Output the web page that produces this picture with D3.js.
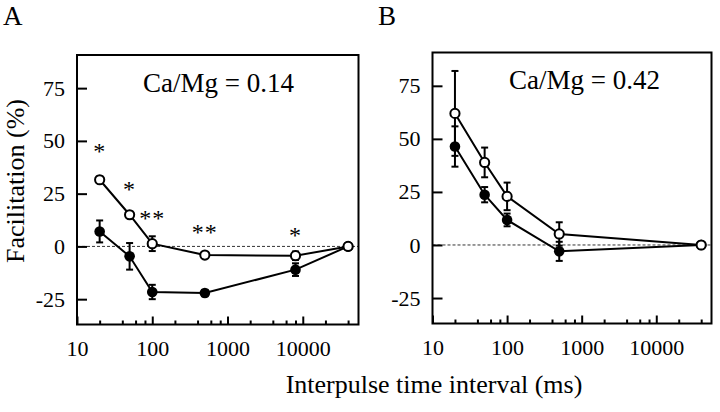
<!DOCTYPE html>
<html>
<head>
<meta charset="utf-8">
<script src="https://cdn.jsdelivr.net/npm/d3@7/dist/d3.min.js"></script>
<style>
  html, body { margin: 0; padding: 0; background: #fff; }
  svg { display: block; }
  text { font-family: "Liberation Serif", "DejaVu Serif", serif; fill: #000; }
</style>
</head>
<body>
<svg id="chart" width="720" height="412"></svg>
<script>
// ---- data ----
const xMajorTicks = [10, 100, 1000, 10000];
const xMinorTicks = [20, 40, 60, 80, 200, 400, 600, 800, 2000, 4000, 6000, 8000, 20000, 40000];
const yTicks = [-25, 0, 25, 50, 75];

const intervalsA = [20, 50, 100, 500, 8000, 40000];
const openA      = [31.6, 15.0, 1.3, -4.1, -4.4, 0];
const openErrA   = [1.5, 1.5, 3.5, 1.0, 2.0, 0];
const filledA    = [7.1, -4.7, -21.6, -22.1, -11.0, 0];
const filledErrA = [5.2, 6.3, 3.4, 1.5, 3.0, 0];
const starXA     = [20, 50, 100, 500, 8000];
const starYA     = [46.3, 28.1, 14.5, 7.9, 6.3];
const starTextA  = ["*", "*", "**", "**", "*"];

const intervalsB = [20, 50, 100, 500, 40000];
const openB      = [62.0, 38.9, 22.9, 5.2, 0];
const openErrB   = [20.0, 7.0, 6.5, 5.5, 0];
const filledB    = [46.4, 23.7, 11.8, -3.0, 0];
const filledErrB = [9.5, 3.6, 3.0, 4.5, 0];

const svg = d3.select("#chart");
const plainNum = d => String(d);

function drawPanel(cfg) {
  const g = svg.append("g");
  const x = d3.scaleLog().domain([10, 55000]).range([cfg.left, cfg.right]);
  const y = d3.scaleLinear().domain([-37, 90.7]).range([cfg.bottom, cfg.top]);

  // zero dashed line
  g.append("line")
    .attr("x1", cfg.left).attr("x2", cfg.right)
    .attr("y1", y(0)).attr("y2", y(0))
    .attr("stroke", "#333").attr("stroke-width", 1)
    .attr("stroke-dasharray", "3,2");

  // minor x ticks
  const minor = g.append("g").attr("transform", `translate(0,${cfg.bottom})`)
    .call(d3.axisBottom(x).tickValues(xMinorTicks).tickSize(-4).tickFormat(""));
  minor.select(".domain").remove();
  minor.selectAll("line").attr("stroke", "#000").attr("stroke-width", 2);

  // major x ticks + labels
  const xa = g.append("g").attr("transform", `translate(0,${cfg.bottom})`)
    .call(d3.axisBottom(x).tickValues(xMajorTicks).tickSize(-8).tickPadding(16)
      .tickFormat(plainNum));
  xa.select(".domain").remove();
  xa.selectAll("line").attr("stroke", "#000").attr("stroke-width", 2);
  xa.selectAll("text").attr("font-size", 22).attr("font-family", "Liberation Serif").attr("fill", "#000");

  // y axis
  const ya = g.append("g").attr("transform", `translate(${cfg.left},0)`)
    .call(d3.axisLeft(y).tickValues(yTicks).tickSize(-10).tickPadding(12).tickFormat(plainNum));
  ya.select(".domain").remove();
  ya.selectAll("line").attr("stroke", "#000").attr("stroke-width", 2);
  ya.selectAll("text").attr("font-size", 22).attr("font-family", "Liberation Serif").attr("fill", "#000");

  // frame
  g.append("rect")
    .attr("x", cfg.left).attr("y", cfg.top)
    .attr("width", cfg.right - cfg.left).attr("height", cfg.bottom - cfg.top)
    .attr("fill", "none").attr("stroke", "#000").attr("stroke-width", 2);

  const line = d3.line().x(d => x(d[0])).y(d => y(d[1]));

  function series(xs, ys, es, filled) {
    const pts = xs.map((v, i) => [v, ys[i], es[i]]);
    g.append("path").datum(pts).attr("d", line)
      .attr("fill", "none").attr("stroke", "#000").attr("stroke-width", 2);
    const eb = g.append("g");
    pts.filter(p => p[2] > 0).forEach(p => {
      const cx = x(p[0]);
      eb.append("line").attr("x1", cx).attr("x2", cx)
        .attr("y1", y(p[1] - p[2])).attr("y2", y(p[1] + p[2]))
        .attr("stroke", "#000").attr("stroke-width", 2);
      [p[1] - p[2], p[1] + p[2]].forEach(v => {
        eb.append("line").attr("x1", cx - 3.5).attr("x2", cx + 3.5)
          .attr("y1", y(v)).attr("y2", y(v))
          .attr("stroke", "#000").attr("stroke-width", 2);
      });
    });
    g.append("g").selectAll("circle").data(pts).join("circle")
      .attr("cx", d => x(d[0])).attr("cy", d => y(d[1]))
      .attr("r", filled ? 5.3 : 4.6)
      .attr("fill", filled ? "#000" : "#fff")
      .attr("stroke", "#000").attr("stroke-width", filled ? 0 : 2);
  }

  series(cfg.xs, cfg.filled, cfg.filledErr, true);
  series(cfg.xs, cfg.open, cfg.openErr, false);

  if (cfg.starX) {
    g.append("g").selectAll("text").data(cfg.starX.map((v, i) => [v, cfg.starY[i], cfg.starText[i]]))
      .join("text")
      .attr("x", d => x(d[0])).attr("y", d => y(d[1]) + 10)
      .attr("text-anchor", "middle").attr("font-size", 24)
      .attr("letter-spacing", 1)
      .text(d => d[2]);
  }

  g.append("text").attr("x", cfg.titleX).attr("y", cfg.titleY)
    .attr("font-size", 27).text(cfg.title);

  g.append("text").attr("x", cfg.labelX).attr("y", 25)
    .attr("font-size", 27).text(cfg.label);
}

drawPanel({
  left: 77, right: 358.5, top: 55, bottom: 324.5,
  xs: intervalsA, open: openA, openErr: openErrA, filled: filledA, filledErr: filledErrA,
  starX: starXA, starY: starYA, starText: starTextA,
  title: "Ca/Mg = 0.14", titleX: 143, titleY: 91.5, label: "A", labelX: 3
});
drawPanel({
  left: 432.5, right: 711.5, top: 52.5, bottom: 323.5,
  xs: intervalsB, open: openB, openErr: openErrB, filled: filledB, filledErr: filledErrB,
  title: "Ca/Mg = 0.42", titleX: 509, titleY: 89, label: "B", labelX: 378
});

svg.append("text")
  .attr("transform", "translate(24,181) rotate(-90)")
  .attr("text-anchor", "middle").attr("font-size", 26)
  .text("Facilitation (%)");

svg.append("text")
  .attr("x", 434).attr("y", 393)
  .attr("text-anchor", "middle").attr("font-size", 26)
  .text("Interpulse time interval (ms)");
</script>
</body>
</html>
